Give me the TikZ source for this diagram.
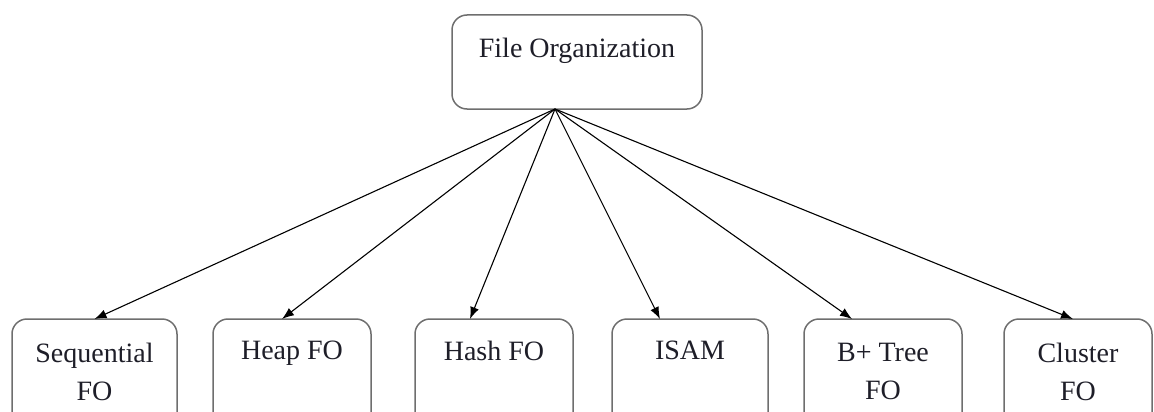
\documentclass[tikz,border=0pt]{standalone}
\usepackage{fontspec}
\setmainfont{Liberation Serif}
\usetikzlibrary{arrows.meta}
\definecolor{boxgray}{HTML}{6E6E6E}
\definecolor{txt}{HTML}{1E1E28}
\newcommand{\boxtxt}[4]{\parbox[c][#1][t]{#2}{\centering\vspace*{#3}#4\par}}
\tikzset{
  fobox/.style={draw=boxgray, line width=1.5pt, rounded corners=15pt, inner sep=0pt, outer sep=0pt,
    text=txt, font=\fontsize{28}{38}\selectfont, anchor=north west},
  conn/.style={draw=black, line width=1.1pt, -{Latex[length=12pt,width=9pt]}}
}
\begin{document}
\begin{tikzpicture}[x=1pt,y=-1pt]
\useasboundingbox (0,0) rectangle (1154,412);
\clip (0,0) rectangle (1154,412);
\node[fobox] (root) at (452,15) {\boxtxt{94pt}{250pt}{23pt}{File Organization}};
\node[fobox] (seq) at (12,319) {\boxtxt{112pt}{165pt}{24pt}{Sequential\\FO}};
\node[fobox] (heap) at (213,319) {\boxtxt{112pt}{158pt}{22pt}{Heap FO}};
\node[fobox] (hash) at (415,319) {\boxtxt{112pt}{158pt}{22pt}{Hash FO}};
\node[fobox] (isam) at (612,319) {\boxtxt{112pt}{156pt}{22pt}{ISAM}};
\node[fobox] (bplus) at (804,319) {\boxtxt{112pt}{158pt}{24pt}{B+ Tree\\FO}};
\node[fobox] (clus) at (1004,319) {\boxtxt{112pt}{148pt}{24pt}{Cluster\\FO}};
\coordinate (apex) at ([xshift=-22pt]root.south);
\draw[conn] (apex) -- ([xshift=0pt]seq.north);
\draw[conn] (apex) -- ([xshift=-10pt]heap.north);
\draw[conn] (apex) -- ([xshift=-24pt]hash.north);
\draw[conn] (apex) -- ([xshift=-30pt]isam.north);
\draw[conn] (apex) -- ([xshift=-31pt]bplus.north);
\draw[conn] (apex) -- ([xshift=-5pt]clus.north);
\end{tikzpicture}
\end{document}
